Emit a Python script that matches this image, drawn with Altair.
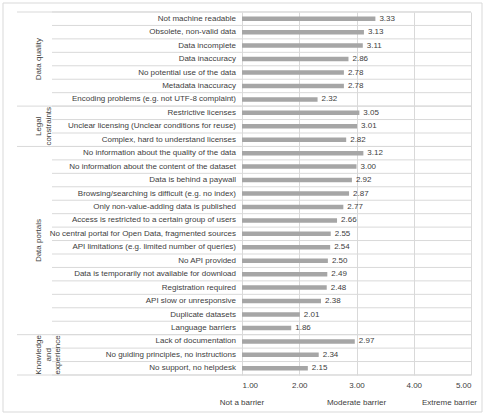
import altair as alt
import pandas as pd

# Barrier ratings (1 = not a barrier, 5 = extreme barrier), grouped by theme
groups = ["Data quality", "Legal\nconstraints", "Data portals", "Knowledge\nand\nexperience"]

quality_items = [
    "Not machine readable",
    "Obsolete, non-valid data",
    "Data incomplete",
    "Data inaccuracy",
    "No potential use of the data",
    "Metadata inaccuracy",
    "Encoding problems (e.g. not UTF-8 complaint)",
]
quality_values = [3.33, 3.13, 3.11, 2.86, 2.78, 2.78, 2.32]

legal_items = [
    "Restrictive licenses",
    "Unclear licensing (Unclear conditions for reuse)",
    "Complex, hard to understand licenses",
]
legal_values = [3.05, 3.01, 2.82]

portal_items = [
    "No information about the quality of the data",
    "No information about the content of the dataset",
    "Data is behind a paywall",
    "Browsing/searching is difficult (e.g. no index)",
    "Only non-value-adding data is published",
    "Access is restricted to a certain group of users",
    "No central portal for Open Data, fragmented sources",
    "API limitations (e.g. limited number of queries)",
    "No API provided",
    "Data is temporarily not available for download",
    "Registration required",
    "API slow or unresponsive",
    "Duplicate datasets",
    "Language barriers",
]
portal_values = [3.12, 3.00, 2.92, 2.87, 2.77, 2.66, 2.55, 2.54, 2.50, 2.49, 2.48, 2.38, 2.01, 1.86]

knowledge_items = [
    "Lack of documentation",
    "No guiding principles, no instructions",
    "No support, no helpdesk",
]
knowledge_values = [2.97, 2.34, 2.15]

scale_ticks = [1, 2, 3, 4, 5]
scale_captions = ["Not a barrier", "Moderate barrier", "Extreme barrier"]
caption_positions = [1, 3, 5]

# ---- tables built from the lists above ----
item_lists = [quality_items, legal_items, portal_items, knowledge_items]
value_lists = [quality_values, legal_values, portal_values, knowledge_values]

rows, group_rows, boundaries = [], [], []
idx = 0
for g, items, vals in zip(groups, item_lists, value_lists):
    start = idx
    for item, v in zip(items, vals):
        rows.append({"item": item, "value": v, "base": 1, "pos": idx + 0.5, "group": g})
        idx += 1
    group_rows.append({"group": g, "pos": start + len(items) / 2})
    boundaries.append(start)
boundaries.append(idx)
n_rows = idx

bars_df = pd.DataFrame(rows)
groups_df = pd.DataFrame(group_rows)
row_lines_df = pd.DataFrame({"pos": list(range(n_rows + 1))})
group_lines_df = pd.DataFrame({"pos": boundaries})
captions_df = pd.DataFrame({"caption": scale_captions, "x": caption_positions})

W = 229
H = 363
FONT = "Liberation Sans"
FS = 8
TEXT = "#404040"
GRID = "#d9d9d9"
BAR = "#a6a6a6"

x_scale = alt.Scale(domain=[1, 5], nice=False, zero=False)
y_scale = alt.Scale(domain=[0, n_rows], nice=False, zero=False, reverse=True)
y_enc = alt.Y("pos:Q", scale=y_scale, axis=None)

frame = alt.Chart(alt.Data(values=[{}])).mark_rect(
    fillOpacity=0, stroke=GRID, strokeWidth=1
).encode(
    x=alt.value(-239), x2=alt.value(240), y=alt.value(-9), y2=alt.value(400)
)

row_lines = alt.Chart(row_lines_df).mark_rule(color=GRID, strokeWidth=1).encode(
    y=y_enc, x=alt.value(-190), x2=alt.value(W)
)

group_lines = alt.Chart(group_lines_df).mark_rule(color=GRID, strokeWidth=1).encode(
    y=y_enc, x=alt.value(-225), x2=alt.value(W)
)

bars = alt.Chart(bars_df).mark_rule(color=BAR, strokeWidth=4.5, strokeCap="butt").encode(
    x=alt.X(
        "value:Q",
        scale=x_scale,
        axis=alt.Axis(
            values=scale_ticks,
            format=".2f",
            grid=True,
            gridColor=GRID,
            domain=False,
            ticks=False,
            tickSize=0,
            labelPadding=6,
            labelFont=FONT,
            labelFontSize=FS,
            labelColor=TEXT,
            title=None,
        ),
    ),
    x2="base:Q",
    y=y_enc,
)

value_labels = alt.Chart(bars_df).mark_text(
    align="left", baseline="middle", dx=4, font=FONT, fontSize=FS, color=TEXT
).encode(
    x=alt.X("value:Q", scale=x_scale),
    y=y_enc,
    text=alt.Text("value:Q", format=".2f"),
)

item_labels = alt.Chart(bars_df).mark_text(
    align="right", baseline="middle", font=FONT, fontSize=FS, color=TEXT
).encode(
    x=alt.value(-6),
    y=y_enc,
    text="item:N",
)

group_labels = alt.Chart(groups_df).mark_text(
    angle=270, align="center", baseline="bottom", lineBreak="\n",
    lineHeight=9.5, font=FONT, fontSize=FS, color=TEXT
).encode(
    x=alt.value(-199),
    y=y_enc,
    text="group:N",
)

captions_mid = alt.Chart(captions_df[captions_df["x"] < 5]).mark_text(
    align="center", baseline="middle", font=FONT, fontSize=FS, color=TEXT
).encode(
    x=alt.X("x:Q", scale=x_scale),
    y=alt.value(391),
    text="caption:N",
)

captions_end = alt.Chart(captions_df[captions_df["x"] == 5]).mark_text(
    align="right", baseline="middle", dx=6, font=FONT, fontSize=FS, color=TEXT
).encode(
    x=alt.X("x:Q", scale=x_scale),
    y=alt.value(391),
    text="caption:N",
)

chart = alt.layer(
    frame, row_lines, group_lines, bars, value_labels, item_labels,
    group_labels, captions_mid, captions_end
).properties(
    width=W,
    height=H,
    autosize=alt.AutoSizeParams(type="none"),
    padding={"left": 242, "top": 12, "right": 14, "bottom": 40},
    background="white",
).configure_view(stroke=None)

chart.save("out.html", embed_options={"renderer": "svg", "actions": False})
